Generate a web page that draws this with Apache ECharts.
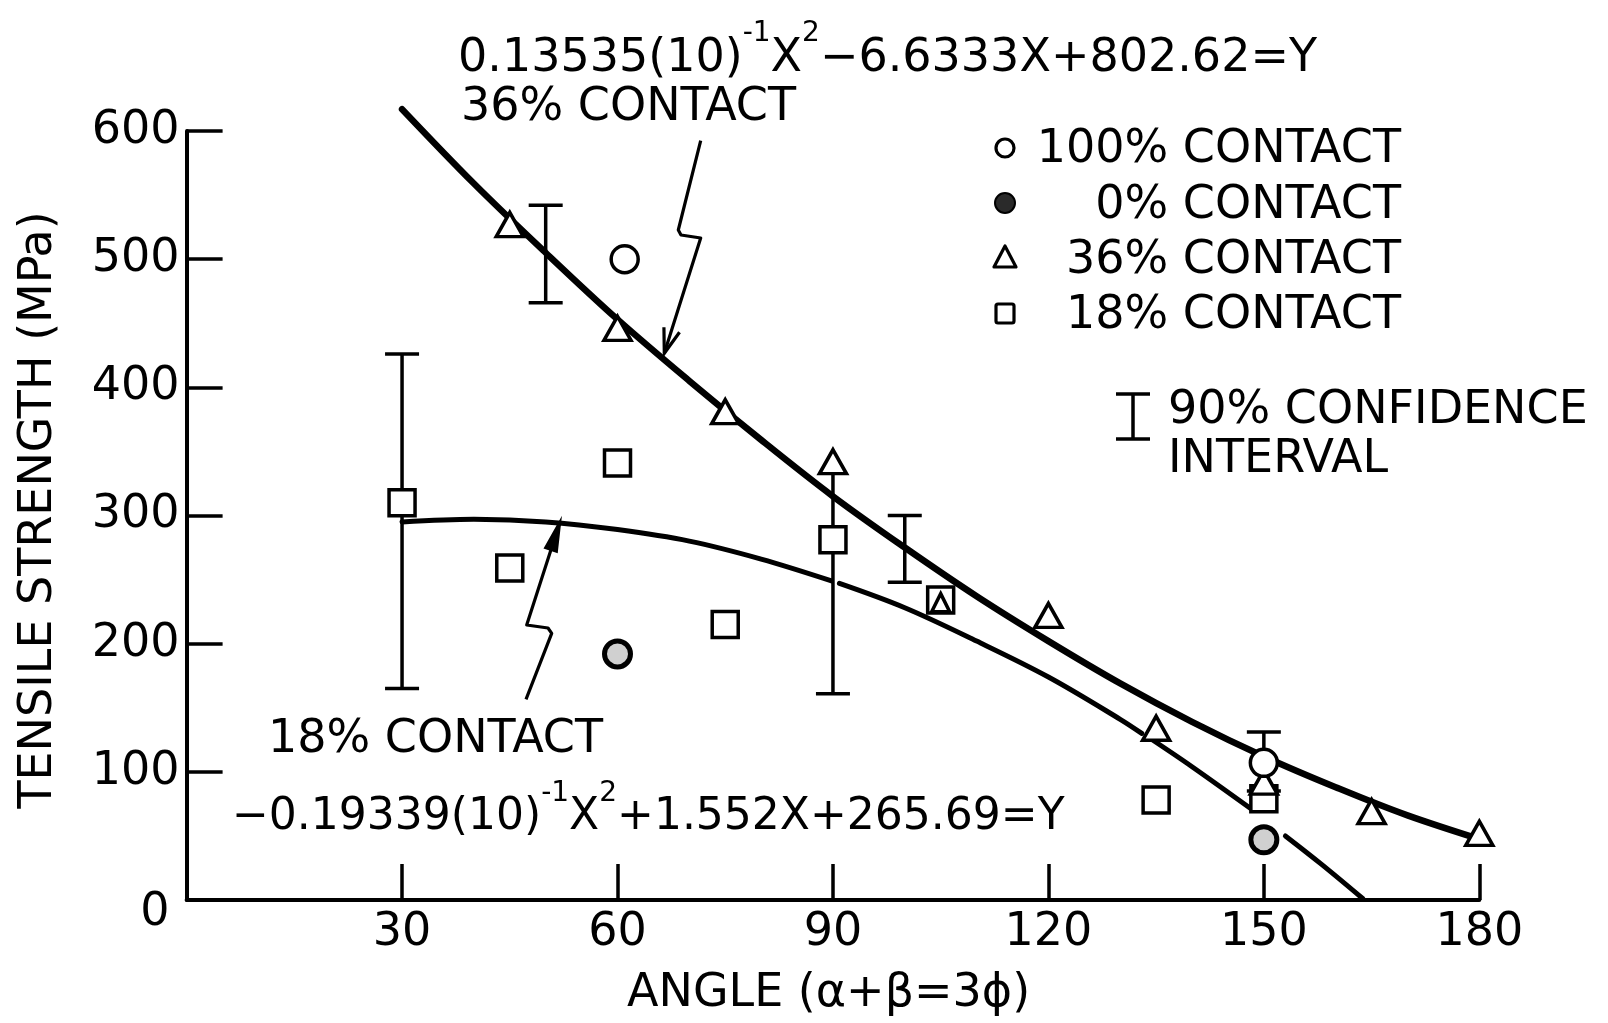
<!DOCTYPE html>
<html>
<head>
<meta charset="utf-8">
<script src="https://cdn.jsdelivr.net/npm/echarts@6/dist/echarts.min.js"></script>
<style>
  html, body { margin: 0; padding: 0; background: #fff; }
  #chart { width: 1608px; height: 1023px; }
</style>
</head>
<body>
<div id="chart"></div>
<script>
// ---------- data ----------
const xTicks = [30, 60, 90, 120, 150, 180];
const yTicks = [0, 100, 200, 300, 400, 500, 600];

// 36% contact (triangles)
const angles36 = [45, 60, 75, 90, 105, 120, 135, 150, 165, 180];
const strength36 = [527, 446, 381, 342, 232, 222, 134, 92, 69, 52];

// 18% contact (squares)
const angles18 = [30, 45, 60, 75, 90, 105, 135, 150];
const strength18 = [310, 259, 341, 215, 281, 234, 78, 79];

// 100% contact (open circles)
const angles100 = [61, 150];
const strength100 = [500, 107];

// 0% contact (filled circles)
const angles0 = [60, 150];
const strength0 = [192, 47];

// 90% confidence intervals
const ciAngle = [30, 50, 90, 100, 150];
const ciLow = [165, 466, 161, 248, 85];
const ciHigh = [426, 542, 335, 300, 131];
const ciTopCap = [1, 1, 0, 1, 1];

// fitted curve, 36% contact
const fit36Angle = [30, 40, 50, 60, 70, 80, 90, 100, 110, 120, 130, 140, 150, 160, 170, 182];
const fit36Value = [617, 559, 505, 453, 405, 359, 315, 275, 237, 202, 169, 139, 112, 88, 66, 44];

// fitted curve, 18% contact (drawn in broken pieces)
const fit18aAngle = [30, 40, 50, 60, 70, 80, 89.8];
const fit18aValue = [295, 297, 295, 289, 280, 266, 249];
const fit18bAngle = [90.9, 100, 110, 120, 130, 133];
const fit18bValue = [247, 228, 202, 174, 141, 130];
const fit18cAngle = [134.2, 140, 148.5];
const fit18cValue = [126, 104, 70];
const fit18dAngle = [153, 158, 163.8];
const fit18dValue = [50, 28, 1];

// ---------- helpers ----------
const FONT = 'DejaVu Sans';
const INK = '#000';
const zip = (a, b) => a.map((v, i) => [v, b[i]]);

function overlapsSquare(v) {
  for (let i = 0; i < angles18.length; i++) {
    if (angles18[i] === v[0] && Math.abs(strength18[i] - v[1]) < 5) return true;
  }
  return false;
}

function arrowWings(tip, from, len, ang) {
  const dx = from[0] - tip[0], dy = from[1] - tip[1];
  const d = Math.hypot(dx, dy);
  const ux = dx / d, uy = dy / d;
  const rot = (a) => [tip[0] + len * (ux * Math.cos(a) - uy * Math.sin(a)),
                      tip[1] + len * (ux * Math.sin(a) + uy * Math.cos(a))];
  return [rot(ang), rot(-ang)];
}

const chart = echarts.init(document.getElementById('chart'), null, { renderer: 'canvas' });

const lineBase = {
  type: 'line', smooth: 0.35, symbol: 'none', clip: false, silent: true,
  lineStyle: { color: INK, width: 5, cap: 'round' }, z: 2
};

const markerStyle = { color: '#fff', borderColor: INK, borderWidth: 3.5, opacity: 1 };

// annotation geometry (pixels)
const arrow1 = [[700.7, 140.7], [678.3, 230], [681, 235], [700.7, 238], [664.3, 353.3]];
const arrow2 = [[526, 699.3], [551.7, 633.3], [548, 628], [526.7, 625], [560, 521.7]];
const w1 = arrowWings(arrow1[4], arrow1[3], 26, 0.32);
const w2 = arrowWings(arrow2[4], arrow2[3], 30, 0.2);

const eqRich = {
  a: { fontFamily: FONT, fontSize: 46, color: INK, lineHeight: 62, verticalAlign: 'bottom' },
  s: { fontFamily: FONT, fontSize: 28, color: INK, lineHeight: 24, verticalAlign: 'top' }
};
const eqRich2 = {
  a: { fontFamily: FONT, fontSize: 44, color: INK, lineHeight: 60, verticalAlign: 'bottom' },
  s: { fontFamily: FONT, fontSize: 28, color: INK, lineHeight: 24, verticalAlign: 'top' }
};

const txt = (x, y, text, extra, rotation) => ({
  type: 'text', x: x, y: y, rotation: rotation || 0, silent: true,
  style: Object.assign({ text: text, fontFamily: FONT, fontSize: 46, fill: INK,
    textAlign: 'left', textVerticalAlign: 'middle' }, extra || {})
});

const option = {
  animation: false,
  backgroundColor: '#fff',
  grid: { left: 186.6, right: 128.7, top: 131, bottom: 123, containLabel: false, outerBoundsMode: 'none' },
  xAxis: {
    type: 'value', min: 0, max: 180, interval: 30,
    axisLine: { lineStyle: { color: INK, width: 4 } },
    axisTick: { inside: true, length: 36, lineStyle: { color: INK, width: 3.5 } },
    axisLabel: {
      margin: 10, color: INK, fontFamily: FONT, fontSize: 46,
      formatter: (v) => (xTicks.indexOf(v) >= 0 ? String(v) : '')
    },
    splitLine: { show: false }
  },
  yAxis: {
    type: 'value', min: 0, max: 600, interval: 100,
    axisLine: { show: true, lineStyle: { color: INK, width: 4 } },
    axisTick: { show: true, inside: true, length: 36, lineStyle: { color: INK, width: 3.5 } },
    axisLabel: {
      margin: 7, color: INK, fontFamily: FONT, fontSize: 46,
      formatter: (v) => (v === 0 ? '{z|0}' : (yTicks.indexOf(v) >= 0 ? String(v) : '')),
      rich: { z: { fontFamily: FONT, fontSize: 46, color: INK, padding: [26, 10, 0, 0] } }
    },
    splitLine: { show: false }
  },
  series: [
    Object.assign({}, lineBase, { name: 'fit36', data: zip(fit36Angle, fit36Value), lineStyle: { color: INK, width: 6.5, cap: 'round' } }),
    Object.assign({}, lineBase, { name: 'fit18a', data: zip(fit18aAngle, fit18aValue) }),
    Object.assign({}, lineBase, { name: 'fit18b', data: zip(fit18bAngle, fit18bValue) }),
    Object.assign({}, lineBase, { name: 'fit18c', data: zip(fit18cAngle, fit18cValue) }),
    Object.assign({}, lineBase, { name: 'fit18d', data: zip(fit18dAngle, fit18dValue) }),
    {
      type: 'custom', name: 'ci', z: 3, clip: false, silent: true,
      data: ciAngle.map((a, i) => [a, ciLow[i], ciHigh[i], ciTopCap[i]]),
      encode: { x: 0, y: [1, 2] },
      renderItem: function (params, api) {
        const x = api.value(0);
        const pLo = api.coord([x, api.value(1)]);
        const pHi = api.coord([x, api.value(2)]);
        const half = 17;
        const st = { stroke: INK, lineWidth: 3.5, fill: null };
        const children = [
          { type: 'line', shape: { x1: pLo[0], y1: pLo[1], x2: pHi[0], y2: pHi[1] }, style: st },
          { type: 'line', shape: { x1: pLo[0] - half, y1: pLo[1], x2: pLo[0] + half, y2: pLo[1] }, style: st }
        ];
        if (api.value(3)) {
          children.push({ type: 'line', shape: { x1: pHi[0] - half, y1: pHi[1], x2: pHi[0] + half, y2: pHi[1] }, style: st });
        }
        return { type: 'group', children: children };
      }
    },
    {
      type: 'scatter', name: '18% CONTACT', z: 4, symbol: 'rect', symbolSize: 26,
      data: zip(angles18, strength18), itemStyle: markerStyle, clip: false
    },
    {
      type: 'scatter', name: '36% CONTACT', z: 5, symbol: 'triangle',
      symbolSize: (v) => (overlapsSquare(v) ? [18, 18] : [27, 24]),
      data: zip(angles36, strength36), itemStyle: markerStyle, clip: false
    },
    {
      type: 'scatter', name: '100% CONTACT', z: 6, symbol: 'circle', symbolSize: 27,
      data: zip(angles100, strength100), itemStyle: markerStyle, clip: false
    },
    {
      type: 'scatter', name: '0% CONTACT', z: 6, symbol: 'circle', symbolSize: 26,
      data: zip(angles0, strength0),
      itemStyle: { color: '#d0d0d0', borderColor: INK, borderWidth: 5, opacity: 1 }, clip: false
    }
  ],
  graphic: [
    // axis titles
    txt(39, 510, 'TENSILE STRENGTH (MPa)', { textAlign: 'center', fontSize: 46 }, Math.PI / 2),
    txt(627, 994, 'ANGLE (α+β=3ϕ)', { fontSize: 46 }),
    // equations and curve labels
    { type: 'text', x: 458, y: 51, silent: true,
      style: { text: '{a|0.13535(10)}{s|-1}{a|X}{s|2}{a|−6.6333X+802.62=Y}', rich: eqRich,
        textAlign: 'left', textVerticalAlign: 'middle' } },
    txt(461, 108, '36% CONTACT'),
    txt(268, 740, '18% CONTACT'),
    { type: 'text', x: 232, y: 810, silent: true,
      style: { text: '{a|−0.19339(10)}{s|-1}{a|X}{s|2}{a|+1.552X+265.69=Y}', rich: eqRich2,
        textAlign: 'left', textVerticalAlign: 'middle' } },
    // arrows
    { type: 'polyline', silent: true, shape: { points: arrow1 }, style: { stroke: INK, lineWidth: 3.2, fill: null, lineJoin: 'round' } },
    { type: 'polyline', silent: true, shape: { points: [w1[0], arrow1[4], w1[1]] }, style: { stroke: INK, lineWidth: 3.2, fill: null } },
    { type: 'polyline', silent: true, shape: { points: arrow2 }, style: { stroke: INK, lineWidth: 3.2, fill: null, lineJoin: 'round' } },
    { type: 'polygon', silent: true, shape: { points: [w2[0], arrow2[4], w2[1]] }, style: { stroke: INK, lineWidth: 2.5, fill: INK } },
    // legend
    { type: 'circle', silent: true, shape: { cx: 1005, cy: 148, r: 9 }, style: { fill: '#fff', stroke: INK, lineWidth: 3.2 } },
    { type: 'circle', silent: true, shape: { cx: 1005, cy: 203, r: 10 }, style: { fill: '#2a2a2a', stroke: INK, lineWidth: 2 } },
    { type: 'polygon', silent: true, shape: { points: [[1005, 246], [1016, 267], [994, 267]] }, style: { fill: '#fff', stroke: INK, lineWidth: 3.2, lineJoin: 'round' } },
    { type: 'rect', silent: true, shape: { x: 996, y: 304, width: 18, height: 19, r: 2 }, style: { fill: '#fff', stroke: INK, lineWidth: 3.2 } },
    txt(1401, 150, '100% CONTACT', { textAlign: 'right' }),
    txt(1401, 206, '0% CONTACT', { textAlign: 'right' }),
    txt(1401, 261, '36% CONTACT', { textAlign: 'right' }),
    txt(1401, 316, '18% CONTACT', { textAlign: 'right' }),
    // confidence interval key
    { type: 'polyline', silent: true, shape: { points: [[1133, 394], [1133, 439]] }, style: { stroke: INK, lineWidth: 3.5, fill: null } },
    { type: 'polyline', silent: true, shape: { points: [[1116, 394], [1150, 394]] }, style: { stroke: INK, lineWidth: 3.5, fill: null } },
    { type: 'polyline', silent: true, shape: { points: [[1116, 439], [1150, 439]] }, style: { stroke: INK, lineWidth: 3.5, fill: null } },
    txt(1168, 411, '90% CONFIDENCE'),
    txt(1168, 460, 'INTERVAL')
  ]
};

chart.setOption(option);
</script>
</body>
</html>
